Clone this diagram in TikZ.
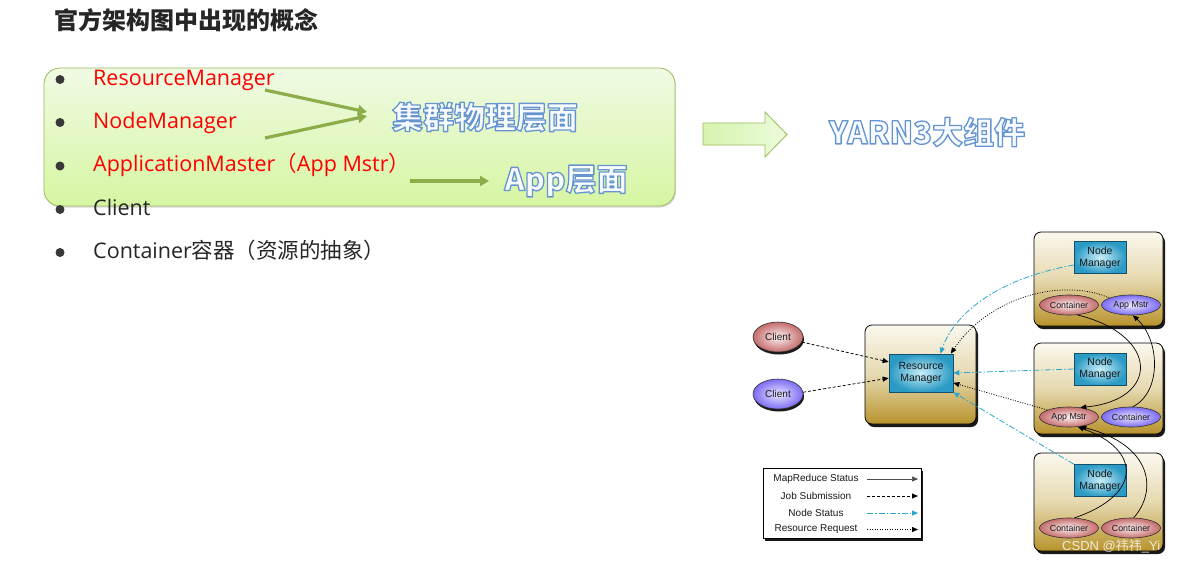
\documentclass[tikz,border=0pt]{standalone}
\usepackage{fontspec}
\setmainfont{Open Sans}
\newfontfamily\cjk{Noto Sans CJK SC}
\newfontfamily\arialf{Liberation Sans}
\usetikzlibrary{arrows.meta,shadows,shapes.geometric,calc}
\definecolor{txtdark}{HTML}{262626}
\definecolor{gtop}{HTML}{F0FAE4}
\definecolor{gbot}{HTML}{D6F6A2}
\definecolor{gborder}{HTML}{9BBB59}
\definecolor{olive}{HTML}{8CAD4A}
\definecolor{goldtop}{HTML}{FBF8EE}
\definecolor{goldmid}{HTML}{E6D9B0}
\definecolor{goldbot}{HTML}{B8932C}
\definecolor{tealin}{HTML}{C8EEF8}
\definecolor{tealout}{HTML}{2B9AC4}
\definecolor{tealb}{HTML}{14506A}
\definecolor{pinkin}{HTML}{FDF1F1}
\definecolor{pinkout}{HTML}{C46C6C}
\definecolor{purpin}{HTML}{ECE8FF}
\definecolor{purpout}{HTML}{7B6CF2}
\definecolor{blueline}{HTML}{2AA5CC}
\definecolor{arrl}{HTML}{D6F4AE}
\definecolor{arrr}{HTML}{ECFBDC}
% outlined text: white fill, blue stroke (PDF text render mode 2)
\newcommand\outlinetxt[1]{\special{pdf:literal direct 0.97 0.98 1 rg 0.40 0.58 0.82 RG 2 Tr 1.3 w 1 j}#1\special{pdf:literal direct 0 Tr 0 0 0 rg 0 0 0 RG}}
\begin{document}
\begin{tikzpicture}[x=1pt,y=-1pt,
  item/.style={anchor=base west,inner sep=0,font=\fontsize{21.5}{24}\selectfont},
  bulletdot/.style={circle,fill=black!78,inner sep=0,minimum size=9pt},
  olivearrow/.style={draw=olive,line width=3.2pt,-{Triangle[length=9pt,width=10pt]}},
  glow/.style={inner sep=0,font=\cjk\bfseries\fontsize{31}{34}\selectfont},
  hostbox/.style={draw=black,line width=0.8pt,rounded corners=7pt,top color=goldtop,bottom color=goldbot,middle color=goldmid,
     drop shadow={shadow xshift=2pt,shadow yshift=-3pt,fill=black,opacity=0.9},inner sep=0},
  mgrbox/.style={draw=tealb,line width=0.7pt,inner color=tealin,outer color=tealout,align=center,
     font=\arialf\fontsize{10.5}{11.7}\selectfont,text=black!90,inner sep=0,minimum width=52pt,minimum height=32pt},
  ell/.style={ellipse,draw=black!80,line width=0.6pt,minimum width=59pt,minimum height=20pt,inner sep=0,
     font=\arialf\fontsize{8.8}{10}\selectfont,text=black!90},
  pinkell/.style={ell,inner color=pinkin,outer color=pinkout},
  purpell/.style={ell,inner color=purpin,outer color=purpout},
  clientell/.style={ellipse,draw=black!80,line width=0.6pt,minimum width=50pt,minimum height=30pt,inner sep=0,
     font=\arialf\fontsize{10}{11}\selectfont,text=black!90,drop shadow={shadow xshift=1pt,shadow yshift=-2.5pt,fill=black,opacity=0.9}},
  tip/.style={-{Triangle[length=6pt,width=5pt]}},
  mrline/.style={draw=black,line width=0.7pt,tip},
  jobline/.style={draw=black,line width=0.75pt,dash pattern=on 3pt off 2pt,tip},
  nsline/.style={draw=blueline,line width=0.8pt,dash pattern=on 6pt off 2pt on 1.5pt off 2pt,-{Triangle[length=6pt,width=5pt]}},
  rrline/.style={draw=black,line width=0.75pt,dash pattern=on 1pt off 1.5pt,tip},
  legtext/.style={font=\arialf\fontsize{10}{11}\selectfont,text=black!90,inner sep=0}
]
\useasboundingbox (0,0) rectangle (1182,563);
\fill[white] (0,0) rectangle (1182,563);

% title
\node[anchor=west,inner sep=0,text=txtdark,font=\cjk\bfseries\fontsize{24}{26}\selectfont] (title) at (54,20) {官方架构图中出现的概念};

% green box
\node[draw=gborder,line width=0.8pt,rounded corners=16pt,top color=gtop,bottom color=gbot,
  minimum width=631pt,minimum height=138pt,inner sep=0,
  drop shadow={shadow xshift=1pt,shadow yshift=-1.5pt,fill=black,opacity=0.15}] (gbox) at (359.5,137) {};

% bullets and items
\node[bulletdot] (b1) at (60,79.5) {};
\node[bulletdot] (b2) at (60,122.5) {};
\node[bulletdot] (b3) at (60,166) {};
\node[bulletdot] (b4) at (60,209.5) {};
\node[bulletdot] (b5) at (60,252.5) {};
\node[item,text=red] (t1) at (93,85) {ResourceManager};
\node[item,text=red] (t2) at (93,128) {NodeManager};
\node[item,text=red] (t3) at (93,171.5) {ApplicationMaster{\cjk （}App Mstr{\cjk ）}};
\node[item,text=txtdark] (t4) at (93,215) {Client};
\node[item,text=txtdark] (t5) at (93,258) {Container{\cjk 容器（资源的抽象）}};

% olive arrows
\coordinate (a1s) at (265,90);
\coordinate (a1e) at (367,112);
\coordinate (a2s) at (265,138);
\coordinate (a2e) at (367,116);
\coordinate (a3s) at (410,181);
\coordinate (a3e) at (489,181);
\draw[olivearrow] (a1s) -- (a1e);
\draw[olivearrow] (a2s) -- (a2e);
\draw[olivearrow] (a3s) -- (a3e);

% outlined labels
\node[glow] (phys) at (485,117) {\outlinetxt{集群物理层面}};
\node[glow] (applayer) at (566,181) {\outlinetxt{App层面}};
\node[glow] (yarn) at (927,132) {\outlinetxt{YARN3大组件}};

% block arrow
\path[draw=gborder,line width=0.8pt,left color=arrl,right color=arrr]
  (703,123) -- (765,123) -- (765,112) -- (787,134.5) -- (765,157) -- (765,145) -- (703,145) -- cycle;

% ===== YARN diagram =====
\node[hostbox,minimum width=129pt,minimum height=94pt] (h1) at (1098.5,279) {};
\node[hostbox,minimum width=129pt,minimum height=91pt] (h2) at (1098.5,388.5) {};
\node[hostbox,minimum width=129pt,minimum height=98pt] (h3) at (1098.5,502) {};
\node[hostbox,minimum width=111pt,minimum height=99pt] (rmo) at (920.5,374.5) {};

\node[mgrbox] (nm1) at (1100,257.5) {Node\\Manager};
\node[mgrbox] (nm2) at (1100,369) {Node\\Manager};
\node[mgrbox] (nm3) at (1100,480.5) {Node\\Manager};
\node[mgrbox,minimum width=64pt,minimum height=38pt] (rm) at (921,373) {Resource\\Manager};

\node[pinkell] (cn1) at (1069,305) {Container};
\node[purpell] (am1) at (1131,305) {App Mstr};
\node[pinkell] (am2) at (1069,417) {App Mstr};
\node[purpell] (cn2) at (1131,417) {Container};
\node[pinkell] (cn3a) at (1069,528) {Container};
\node[pinkell] (cn3b) at (1131,528) {Container};

\node[clientell,inner color=pinkin,outer color=pinkout] (c1) at (778,337) {Client};
\node[clientell,inner color=purpin,outer color=purpout] (c2) at (778,394) {Client};

% connectors
\draw[jobline] (c1.-12) -- (rm.161);
\draw[jobline] (c2.4) -- (rm.189);
\draw[nsline] (nm1.196) .. controls (1000,278) and (955,312) .. (rm.45);
\draw[rrline] (am1.162) .. controls (1065,278) and (990,295) .. (rm.33);
\draw[nsline] (nm2.west) -- (rm.east);
\draw[rrline] (am2.162) -- (rm.-17);
\draw[nsline] (nm3.north west) -- (rm.south east);
\draw[mrline] (cn1.-50) .. controls (1160,335) and (1160,400) .. (am2.40);
\draw[mrline] (cn2.80) .. controls (1162,392) and (1160,340) .. (am1.-80);
\draw[mrline] (cn3a.62) .. controls (1142,495) and (1142,450) .. (am2.-48);
\draw[mrline] (cn3b.75) .. controls (1158,490) and (1152,445) .. (am2.-40);

% legend
\node[draw=black,line width=0.8pt,fill=white,minimum width=158pt,minimum height=70pt,inner sep=0,
  drop shadow={shadow xshift=2pt,shadow yshift=-3pt,fill=black,opacity=0.9}] (leg) at (842,503) {};
\node[legtext] (l1) at (816,479) {MapReduce Status};
\node[legtext] (l2) at (816,496) {Job Submission};
\node[legtext] (l3) at (816,513) {Node Status};
\node[legtext] (l4) at (816,529.5) {Resource Request};
\coordinate (ls1) at (867,479); \coordinate (le1) at (918,479);
\coordinate (ls2) at (867,496); \coordinate (le2) at (918,496);
\coordinate (ls3) at (867,513); \coordinate (le3) at (918,513);
\coordinate (ls4) at (867,529.5); \coordinate (le4) at (918,529.5);
\draw[mrline,draw=black!70] (ls1) -- (le1);
\draw[jobline] (ls2) -- (le2);
\draw[nsline] (ls3) -- (le3);
\draw[rrline] (ls4) -- (le4);

% watermark
\node[anchor=west,inner sep=0,text=white,opacity=0.8,font=\arialf\fontsize{13}{14}\selectfont] (wm) at (1062,546) {CSDN @{\cjk 祎祎}\_Yi};
\end{tikzpicture}
\end{document}
